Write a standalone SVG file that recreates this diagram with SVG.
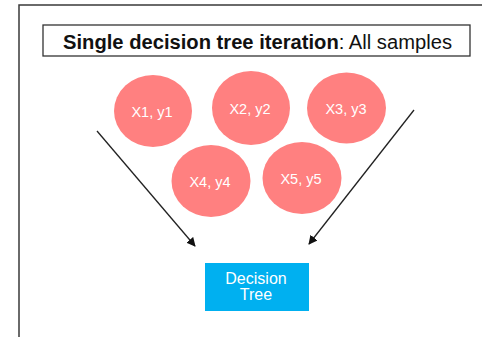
<svg xmlns="http://www.w3.org/2000/svg" width="482" height="337" viewBox="0 0 482 337">
  <style>
    .frame { fill: #ffffff; stroke: #3a3a3a; stroke-width: 1.5; }
    .title { fill: #ffffff; stroke: #333333; stroke-width: 1.3; }
    .title-text { font-family: "Liberation Sans", Arial, sans-serif; font-size: 19.5px; fill: #111111; }
    .sample { fill: #ff8080; }
    .sample-text { font-family: "Liberation Sans", Arial, sans-serif; font-size: 14.5px; fill: #ffffff; text-anchor: middle; }
    .tree { fill: #00b0f0; }
    .tree-text { font-family: "Liberation Sans", Arial, sans-serif; font-size: 16px; fill: #ffffff; text-anchor: middle; }
    .connector { fill: none; stroke: #222222; stroke-width: 1.3; marker-end: url(#arrow); }
  </style>
  <defs>
    <marker id="arrow" viewBox="0 0 10 10" refX="9" refY="5" markerWidth="9" markerHeight="9" markerUnits="userSpaceOnUse" orient="auto">
      <path d="M0,0 L10,5 L0,10 z" fill="#111111"/>
    </marker>
  </defs>

  <rect width="482" height="337" fill="#ffffff"/>
  <!-- outer panel, running past the right and bottom edges -->
  <rect class="frame" x="19" y="5" width="480" height="350"/>

  <g id="title">
    <rect class="title" x="43" y="25" width="427" height="31"/>
    <text class="title-text" x="63" y="48.5" textLength="389" lengthAdjust="spacingAndGlyphs"><tspan font-weight="bold">Single decision tree iteration</tspan>: All samples</text>
  </g>

  <g id="sample1">
    <ellipse class="sample" cx="153" cy="111" rx="39" ry="36"/>
    <text class="sample-text" x="152" y="117">X1, y1</text>
  </g>
  <g id="sample2">
    <ellipse class="sample" cx="251" cy="108" rx="39" ry="37"/>
    <text class="sample-text" x="250" y="114">X2, y2</text>
  </g>
  <g id="sample3">
    <ellipse class="sample" cx="346.5" cy="108" rx="39.5" ry="35.5"/>
    <text class="sample-text" x="346" y="114">X3, y3</text>
  </g>
  <g id="sample4">
    <ellipse class="sample" cx="211" cy="181" rx="39.5" ry="36"/>
    <text class="sample-text" x="210" y="187">X4, y4</text>
  </g>
  <g id="sample5">
    <ellipse class="sample" cx="302" cy="178" rx="39.5" ry="36"/>
    <text class="sample-text" x="301" y="184">X5, y5</text>
  </g>

  <g id="decision-tree">
    <rect class="tree" x="205" y="263" width="104" height="48"/>
    <text class="tree-text" x="256" y="284">Decision</text>
    <text class="tree-text" x="256" y="300">Tree</text>
  </g>

  <g id="connectors">
    <line class="connector" x1="97" y1="131" x2="195" y2="246"/>
    <line class="connector" x1="414" y1="110" x2="309" y2="244"/>
  </g>
</svg>
